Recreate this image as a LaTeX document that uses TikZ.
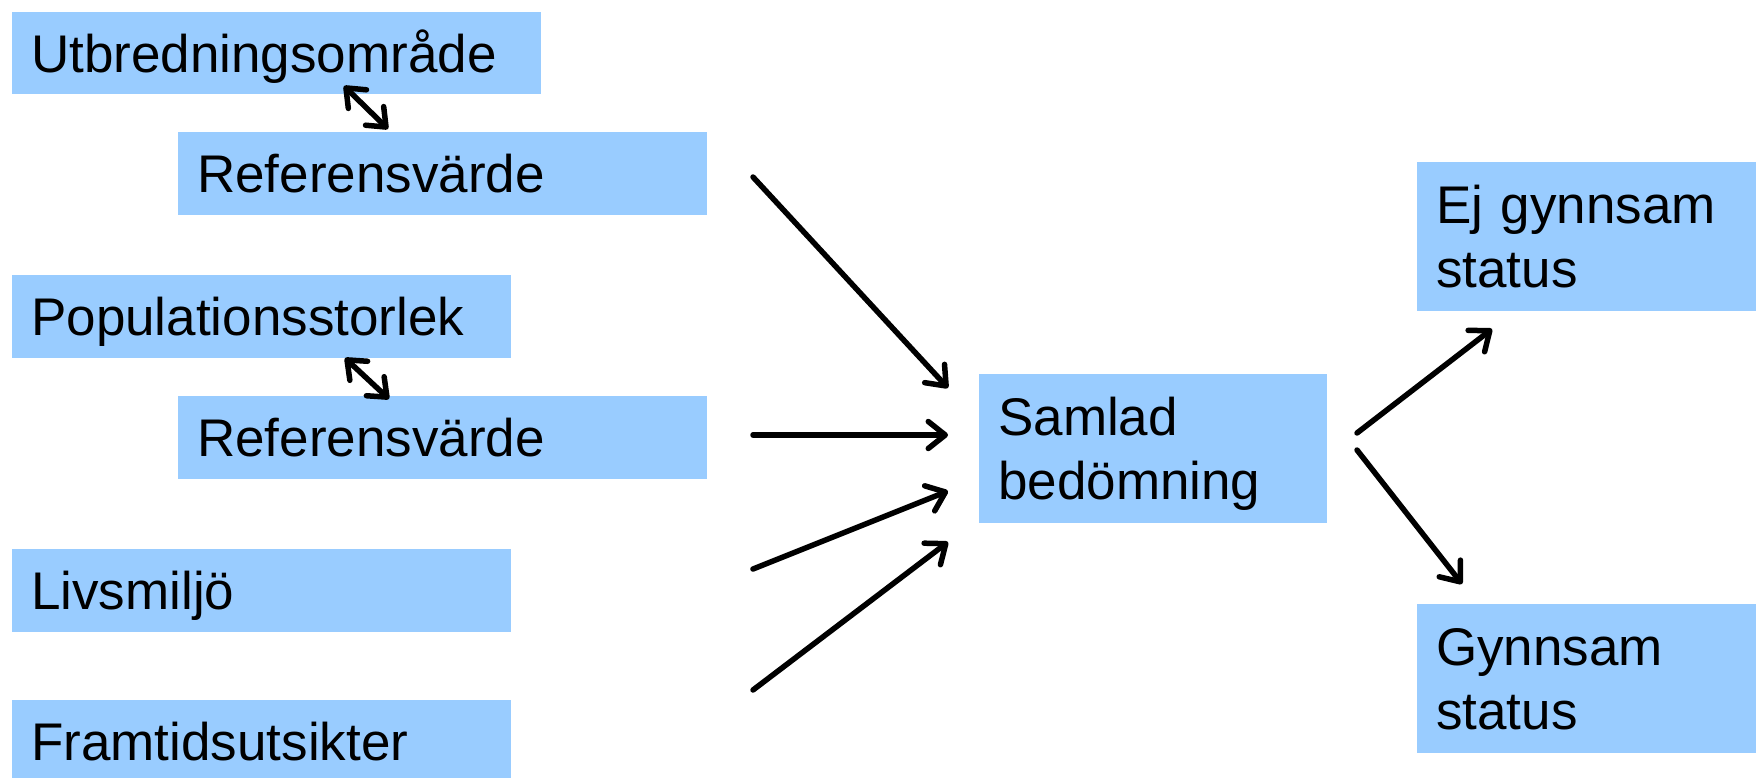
\documentclass[tikz,border=0pt]{standalone}
\usepackage{fontspec}
\setmainfont{Liberation Sans}
\usetikzlibrary{arrows.meta}
\definecolor{boxblue}{HTML}{99CCFF}
\begin{document}
\begin{tikzpicture}[x=1pt,y=-1pt,
  box/.style={fill=boxblue, draw=none, anchor=north west, inner xsep=19pt, inner ysep=0pt,
    align=left, font=\fontsize{53}{64}\selectfont, text height=38pt},
  oneline/.style={text depth=0pt},
  twoline/.style={text depth=64pt},
  arr/.style={line width=5.5pt, line cap=round, -{Straight Barb[length=17pt,width=27pt,round]}},
  dblarr/.style={line width=5.5pt, line cap=round, {Straight Barb[length=16pt,width=26pt,round]}-{Straight Barb[length=16pt,width=26pt,round]}}]
\useasboundingbox (0,0) rectangle (1756,777);
\clip (0,0) rectangle (1756,777);
\fill[white] (0,0) rectangle (1756,777);
% boxes
\node[box,oneline,minimum width=529pt,minimum height=82pt,text width=491pt] (u) at (12,12) {Utbredningsområde};
\node[box,oneline,minimum width=529pt,minimum height=83pt,text width=491pt] (r1) at (178,132) {Referensvärde};
\node[box,oneline,minimum width=499pt,minimum height=83pt,text width=461pt] (p) at (12,275) {Populationsstorlek};
\node[box,oneline,minimum width=529pt,minimum height=83pt,text width=491pt] (r2) at (178,396) {Referensvärde};
\node[box,oneline,minimum width=499pt,minimum height=83pt,text width=461pt] (l) at (12,549) {Livsmiljö};
\node[box,oneline,minimum width=499pt,minimum height=83pt,text width=461pt] (f) at (12,700) {Framtidsutsikter};
\node[box,twoline,minimum width=348pt,minimum height=149pt,text width=310pt] (s) at (979,374) {Samlad\\bedömning};
\node[box,twoline,minimum width=339pt,minimum height=149pt,text width=301pt] (e) at (1417,162) {Ej gynnsam\\status};
\node[box,twoline,minimum width=339pt,minimum height=149pt,text width=301pt] (g) at (1417,604) {Gynnsam\\status};
% connector end points
\coordinate (d1a) at (344,86);  \coordinate (d1b) at (388,129);
\coordinate (d2a) at (345,358); \coordinate (d2b) at (389,399);
\coordinate (a1s) at (753,177); \coordinate (a1e) at (948,388);
\coordinate (a2s) at (753,435); \coordinate (a2e) at (948,435);
\coordinate (a3s) at (753,569); \coordinate (a3e) at (948,491);
\coordinate (a4s) at (753,690); \coordinate (a4e) at (948,542);
\coordinate (a5s) at (1357,433); \coordinate (a5e) at (1492,329);
\coordinate (a6s) at (1357,450); \coordinate (a6e) at (1462,584);
% connectors
\draw[dblarr] (d1a) -- (d1b);
\draw[dblarr] (d2a) -- (d2b);
\draw[arr] (a1s) -- (a1e);
\draw[arr] (a2s) -- (a2e);
\draw[arr] (a3s) -- (a3e);
\draw[arr] (a4s) -- (a4e);
\draw[arr] (a5s) -- (a5e);
\draw[arr] (a6s) -- (a6e);
\end{tikzpicture}
\end{document}
